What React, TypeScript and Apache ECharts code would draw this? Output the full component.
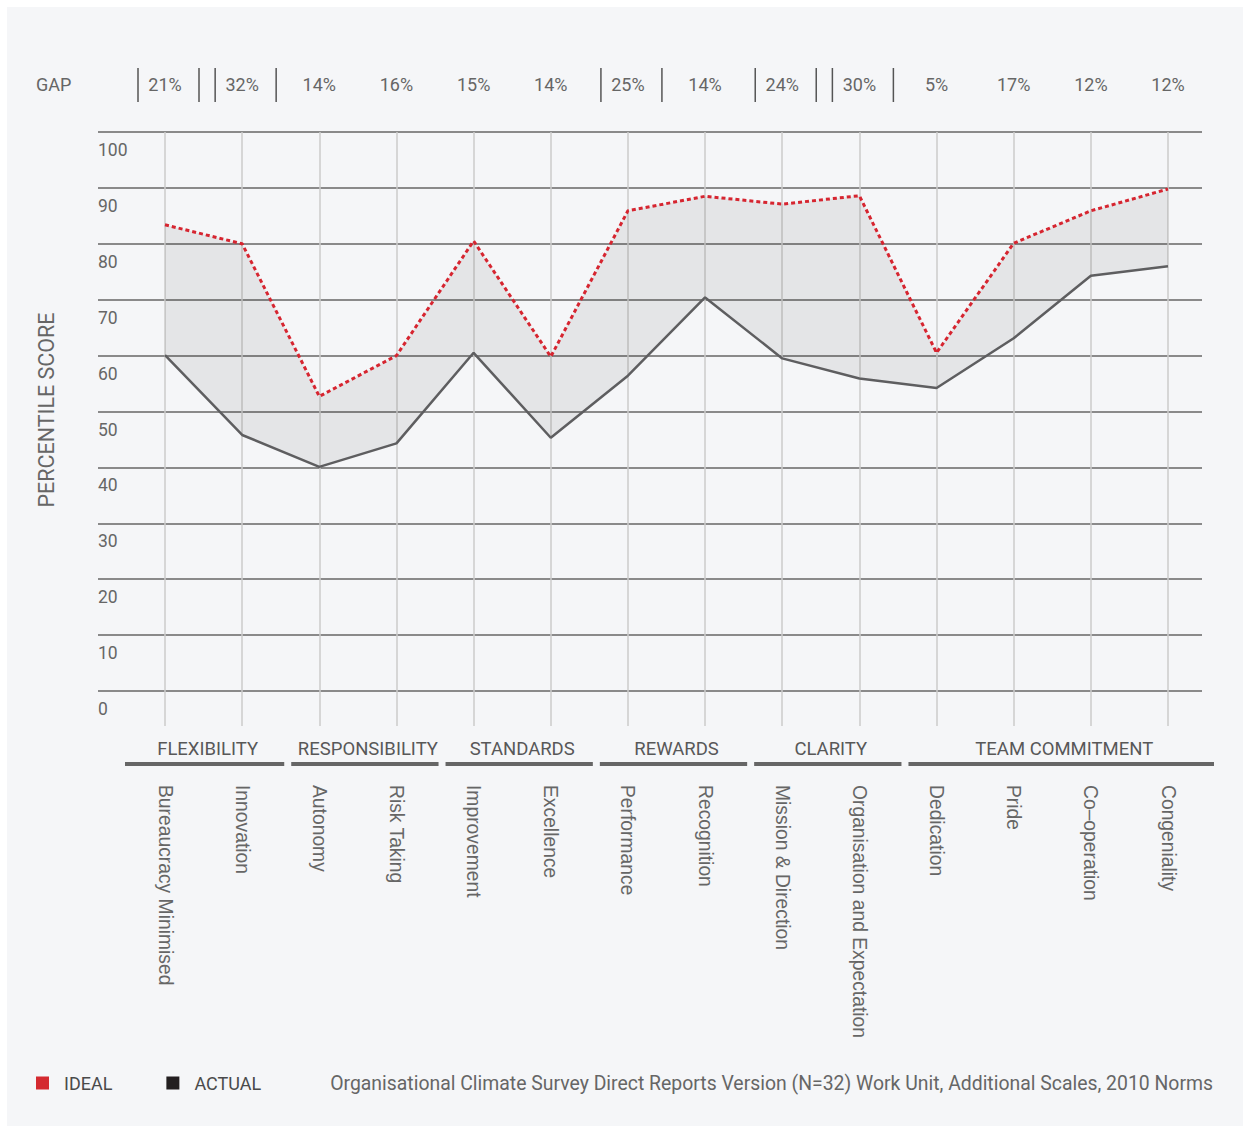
import React, { useEffect, useRef } from "react";
import * as echarts from "echarts";

// Climate scales, left to right
const categories = [
  "Bureaucracy Minimised",
  "Innovation",
  "Autonomy",
  "Risk Taking",
  "Improvement",
  "Excellence",
  "Performance",
  "Recognition",
  "Mission & Direction",
  "Organisation and Expectation",
  "Dedication",
  "Pride",
  "Co–operation",
  "Congeniality",
];

// Percentile scores
const idealScores = [83.4, 80.0, 52.7, 60.0, 80.5, 59.8, 85.9, 88.5, 87.1, 88.6, 60.5, 80.1, 85.9, 89.8];
const actualScores = [60.1, 45.8, 40.1, 44.3, 60.5, 45.3, 56.4, 70.4, 59.5, 55.9, 54.2, 63.1, 74.3, 76.0];

// Reported gap per scale (percent)
const gapPercent = [21, 32, 14, 16, 15, 14, 25, 14, 24, 30, 5, 17, 12, 12];
const gapLabels = gapPercent.map((g) => `${g}%`);
const gapHighlightFrom = 20;

// Dimension groups and how many scales each covers
const groupNames = ["FLEXIBILITY", "RESPONSIBILITY", "STANDARDS", "REWARDS", "CLARITY", "TEAM COMMITMENT"];
const groupSizes = [2, 2, 2, 2, 2, 4];

const footnote =
  "Organisational Climate Survey Direct Reports Version (N=32) Work Unit, Additional Scales, 2010 Norms";

const TEXT = "#666666";
const DIN = "Roboto, 'DejaVu Sans', sans-serif";

export default function App() {
  const ref = useRef<HTMLDivElement>(null);

  useEffect(() => {
    document.body.style.margin = "0";
    if (!ref.current) return;
    const chart = echarts.init(ref.current, null, { renderer: "svg" });
    const band = idealScores.map((v, i) => +(v - actualScores[i]).toFixed(2));

    chart.setOption({
      animation: false,
      backgroundColor: "transparent",
      grid: [
        { left: 98, right: 48, top: 132, bottom: 442 },
        { left: 165, right: 82, top: 132, bottom: 442 },
      ],
      xAxis: [
        { gridIndex: 0, type: "value", min: 0, max: 1, show: false },
        {
          gridIndex: 1,
          type: "category",
          data: categories,
          boundaryGap: false,
          position: "bottom",
          axisLine: { show: false },
          axisTick: { show: true, length: 35, lineStyle: { color: "#cbcbcb", width: 1.5 } },
          splitLine: { show: true, lineStyle: { color: "#cbcbcb", width: 1.5 } },
          axisLabel: {
            interval: 0,
            rotate: -90,
            margin: 94,
            color: TEXT,
            fontFamily: "'Liberation Sans', Arial, sans-serif",
            fontSize: 19.3,
          },
        },
        {
          gridIndex: 1,
          type: "category",
          data: gapLabels,
          boundaryGap: false,
          position: "top",
          axisLine: { show: false },
          axisTick: { show: false },
          splitLine: { show: false },
          axisLabel: { interval: 0, margin: 39, color: TEXT, fontFamily: DIN, fontSize: 18 },
        },
      ],
      yAxis: [
        {
          gridIndex: 0,
          type: "value",
          min: 0,
          max: 100,
          interval: 10,
          axisLine: { show: false },
          axisTick: { show: false },
          splitLine: { show: true, lineStyle: { color: "#666666", width: 1.5 } },
          axisLabel: {
            inside: true,
            margin: 0,
            align: "left",
            verticalAlign: "top",
            padding: [9, 0, 0, 0],
            color: TEXT,
            fontFamily: DIN,
            fontSize: 17.5,
          },
        },
        { gridIndex: 1, type: "value", min: 0, max: 100, show: false },
      ],
      legend: {
        left: 36,
        top: 1074,
        padding: 0,
        icon: "rect",
        itemWidth: 13,
        itemHeight: 13,
        itemGap: 54,
        data: [
          { name: "IDEAL", itemStyle: { color: "#d42a30" } },
          { name: "ACTUAL", itemStyle: { color: "#231f20" } },
        ],
        textStyle: { color: "#4a4a4a", fontFamily: DIN, fontSize: 18, padding: [0, 0, 0, 10] },
      },
      series: [
        {
          name: "actual-base",
          type: "line",
          xAxisIndex: 1,
          yAxisIndex: 1,
          data: actualScores,
          stack: "gap",
          symbol: "none",
          lineStyle: { width: 0 },
          silent: true,
          z: 1,
        },
        {
          name: "gap-band",
          type: "line",
          xAxisIndex: 1,
          yAxisIndex: 1,
          data: band,
          stack: "gap",
          symbol: "none",
          lineStyle: { width: 0 },
          areaStyle: { color: "rgba(0,0,0,0.065)", opacity: 1 },
          silent: true,
          z: 1,
        },
        {
          name: "IDEAL",
          type: "line",
          xAxisIndex: 1,
          yAxisIndex: 1,
          data: idealScores,
          symbol: "none",
          itemStyle: { color: "#d62530" },
          lineStyle: { color: "#d62530", width: 3, type: [4, 3] },
          z: 3,
        },
        {
          name: "ACTUAL",
          type: "line",
          xAxisIndex: 1,
          yAxisIndex: 1,
          data: actualScores,
          symbol: "none",
          itemStyle: { color: "#5e5e60" },
          lineStyle: { color: "#5e5e60", width: 2.5 },
          z: 4,
        },
      ],
    });

    // Annotations positioned from the category scale
    const px = categories.map((_, i) => chart.convertToPixel({ xAxisIndex: 1 }, i) as number);
    const graphics: any[] = [
      {
        type: "text",
        x: 36,
        y: 84,
        style: { text: "GAP", fill: TEXT, fontFamily: DIN, fontSize: 18, verticalAlign: "middle" },
      },
      {
        type: "text",
        x: 46,
        y: 410,
        rotation: Math.PI / 2,
        style: {
          text: "PERCENTILE SCORE",
          fill: TEXT,
          fontFamily: DIN,
          fontSize: 21.5,
          align: "center",
          verticalAlign: "middle",
        },
      },
      {
        type: "text",
        x: 1213,
        y: 1083,
        style: {
          text: footnote,
          fill: TEXT,
          fontFamily: DIN,
          fontSize: 19.4,
          align: "right",
          verticalAlign: "middle",
        },
      },
    ];

    gapPercent.forEach((g, i) => {
      if (g < gapHighlightFrom) return;
      [px[i] - 27, px[i] + 34].forEach((x) =>
        graphics.push({
          type: "line",
          shape: { x1: x, y1: 68, x2: x, y2: 102 },
          style: { stroke: "#555555", lineWidth: 1.5 },
        })
      );
    });

    let first = 0;
    groupNames.forEach((name, g) => {
      const last = first + groupSizes[g] - 1;
      const left = g === 0 ? px[first] - 40 : (px[first - 1] + px[first]) / 2 + 10.5;
      const right =
        g === groupNames.length - 1 ? px[last] + 46 : (px[last] + px[last + 1]) / 2 + 3.5;
      graphics.push({
        type: "rect",
        shape: { x: left, y: 762, width: right - left, height: 4 },
        style: { fill: "#666666" },
      });
      graphics.push({
        type: "text",
        x: (left + right) / 2 + 3,
        y: 748.5,
        style: {
          text: name,
          fill: "#585858",
          fontFamily: DIN,
          fontSize: 18.5,
          align: "center",
          verticalAlign: "middle",
        },
      });
      first = last + 1;
    });

    chart.setOption({ graphic: graphics });

    return () => chart.dispose();
  }, []);

  return (
    <div style={{ position: "relative", width: 1250, height: 1133, background: "#ffffff" }}>
      <div
        style={{
          position: "absolute",
          left: 7,
          top: 7,
          width: 1236,
          height: 1119,
          background: "#f5f6f8",
        }}
      />
      <div ref={ref} style={{ position: "absolute", left: 0, top: 0, width: 1250, height: 1133 }} />
    </div>
  );
}
